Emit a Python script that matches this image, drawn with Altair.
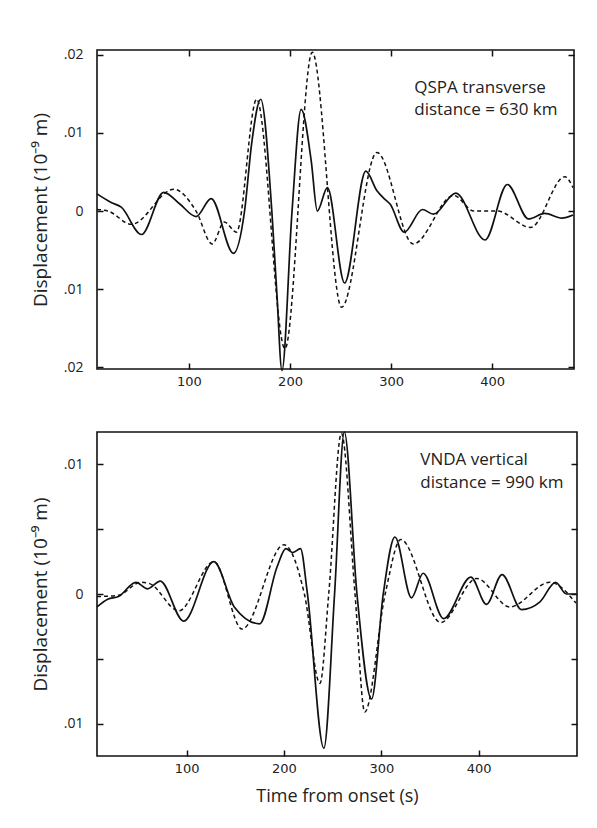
import altair as alt
import pandas as pd

# ---------------- data ----------------
# Top panel: QSPA transverse (solid = observed, dashed = synthetic)
qspa_obs_t = [9, 23, 33, 53, 75, 91, 107, 122, 144, 155, 162, 171, 182, 187, 192, 202, 211, 221, 227,
              237, 254, 275, 286, 294, 299, 313, 331, 342, 364, 393, 415, 436, 452, 469, 480]
qspa_obs_v = [0.0022, 0.0011, 0.0005, -0.0030, 0.0024, 0.0009, -0.0007, 0.0016, -0.0054, 0.0000, 0.0086,
              0.0143, 0.0000, -0.0106, -0.0204, 0.0000, 0.0130, 0.0064, 0.0000,
              0.0030, -0.0092, 0.0051, 0.0026, 0.0015, 0.0009, -0.0027, 0.0002, -0.0004, 0.0023,
              -0.0037, 0.0034, -0.0010, -0.0003, -0.0009, -0.0005]
qspa_syn_t = [9, 20, 43, 85, 107, 123, 135, 147, 167, 195, 222, 251, 286, 322, 362, 382, 405, 438, 472, 480]
qspa_syn_v = [0.0002, 0.0000, -0.0017, 0.0028, 0.0000, -0.0042, -0.0014, -0.0027, 0.0143, -0.0176,
              0.0203, -0.0123, 0.0075, -0.0042, 0.0020, 0.0000, 0.0000, -0.0021, 0.0044, 0.0030]

# Bottom panel: VNDA vertical
vnda_obs_t = [8, 19, 30, 48, 60, 73, 97, 128, 149, 175, 193, 202, 209, 217, 224, 241, 252, 262, 275,
              290, 302, 314, 331, 343, 364, 392, 408, 424, 444, 463, 479, 490, 500]
vnda_obs_v = [-0.0010, -0.0004, -0.0002, 0.0009, 0.0004, 0.0010, -0.0021, 0.0025, -0.0010, -0.0023,
              0.0021, 0.0035, 0.0032, 0.0035, 0.0001, -0.0119, 0.0000, 0.0125, 0.0000,
              -0.0081, 0.0000, 0.0044, -0.0003, 0.0016, -0.0019, 0.0013, -0.0008, 0.0015, -0.0012,
              -0.0006, 0.0009, 0.0000, 0.0000]
vnda_syn_t = [8, 30, 53, 62, 92, 128, 157, 200, 221, 237, 246, 259, 273, 283, 304, 320, 361, 398, 432, 473, 500]
vnda_syn_v = [-0.0002, -0.0001, 0.0009, 0.0008, -0.0013, 0.0025, -0.0027, 0.0038, 0.0000, -0.0069,
              0.0000, 0.0124, 0.0000, -0.0091, 0.0000, 0.0042, -0.0022, 0.0012, -0.0010, 0.0009, -0.0007]

x_ticks = [100, 200, 300, 400]
qspa_y_ticks = [-0.02, -0.01, 0, 0.01, 0.02]
vnda_y_ticks = [-0.01, -0.005, 0, 0.005, 0.01]

qspa_note = ["QSPA transverse", "distance = 630 km"]
qspa_note_t = [323, 323]
qspa_note_v = [0.0158, 0.0129]
vnda_note = ["VNDA vertical", "distance = 990 km"]
vnda_note_t = [340, 340]
vnda_note_v = [0.01036, 0.00854]

y_title = "Displacement (10\u207b\u2079 m)"
x_title = "Time from onset (s)"

FONT = "Open Sans"

label_expr = ("abs(datum.value) < 1e-9 ? '0' : (abs(abs(datum.value) - 0.005) < 1e-6 ? '' : "
              "replace(format(abs(datum.value), '.2f'), '0.', '.'))")


def panel(obs_t, obs_v, syn_t, syn_v, xdom, ydom, w, h, yticks, notes, note_t, note_v,
          show_xtitle, top_ticks):
    df = pd.DataFrame({
        "t": list(obs_t) + list(syn_t),
        "v": list(obs_v) + list(syn_v),
        "s": ["obs"] * len(obs_t) + ["syn"] * len(syn_t),
    })
    notes_df = pd.DataFrame({"t": note_t, "v": note_v, "text": notes})
    xs = alt.Scale(domain=xdom, nice=False, zero=False)
    ys = alt.Scale(domain=ydom, nice=False, zero=False)

    xaxis_kw = dict(orient="bottom", values=x_ticks, offset=-6, tickSize=6, domain=False,
                    grid=False, labelFont="DejaVu Sans", labelFontSize=13, labelPadding=6,
                    labelColor="#222")
    if show_xtitle:
        xaxis_kw.update(title=x_title, titleFont=FONT, titleFontSize=18, titleFontWeight="normal",
                        titlePadding=12, titleColor="#222")
    else:
        xaxis_kw.update(title=None)
    yaxis = alt.Axis(orient="left", values=yticks, offset=-6, tickSize=6, domain=False, grid=False,
                     labelExpr=label_expr, labelFont=FONT, labelFontSize=14, labelPadding=14,
                     labelColor="#222", title=y_title, titleFont=FONT, titleFontSize=19,
                     titleFontWeight="normal", titlePadding=13, titleColor="#222")

    x_enc = alt.X("t:Q", scale=xs, axis=alt.Axis(**xaxis_kw))
    y_enc = alt.Y("v:Q", scale=ys, axis=yaxis)

    obs = alt.Chart(df).transform_filter(alt.datum.s == "obs").mark_line(
        interpolate="monotone", color="#111", strokeWidth=1.7).encode(x=x_enc, y=y_enc)
    syn = alt.Chart(df).transform_filter(alt.datum.s == "syn").mark_line(
        interpolate="monotone", color="#111", strokeWidth=1.5, strokeDash=[4, 3]).encode(x=x_enc, y=y_enc)
    txt = alt.Chart(notes_df).mark_text(align="left", baseline="middle", font=FONT, fontSize=17,
                                        color="#222").encode(x=alt.X("t:Q", scale=xs),
                                                             y=alt.Y("v:Q", scale=ys),
                                                             text="text:N")
    main = alt.layer(obs, syn, txt)

    if top_ticks:
        mx = alt.X("t:Q", scale=xs, axis=alt.Axis(orient="top", values=x_ticks, offset=-6, tickSize=6,
                                                  domain=False, grid=False, labels=False, title=None))
    else:
        mx = alt.X("t:Q", scale=xs, axis=None)
    my = alt.Y("v:Q", scale=ys, axis=alt.Axis(orient="right", values=yticks, offset=-6, tickSize=6,
                                              domain=False, grid=False, labels=False, title=None))
    mirror = alt.Chart(df).mark_line(opacity=0).encode(x=mx, y=my)

    return alt.layer(main, mirror).resolve_scale(x="independent", y="independent").properties(
        width=w, height=h)


top = panel(qspa_obs_t, qspa_obs_v, qspa_syn_t, qspa_syn_v, [9, 481], [-0.0202, 0.0206], 477, 319,
            qspa_y_ticks, qspa_note, qspa_note_t, qspa_note_v, False, True)
bottom = panel(vnda_obs_t, vnda_obs_v, vnda_syn_t, vnda_syn_v, [8, 501], [-0.0125, 0.0125], 480, 324,
               vnda_y_ticks, vnda_note, vnda_note_t, vnda_note_v, True, False)

chart = alt.vconcat(top, bottom, spacing=63, bounds="flush").properties(
    padding={"left": 22, "top": 38, "right": 5, "bottom": 5},
    background="white",
).configure_view(stroke="#111", strokeWidth=1.6).configure_axis(
    tickColor="#111", tickWidth=1.5)

chart.save("out.html", embed_options={"renderer": "svg", "actions": False})
